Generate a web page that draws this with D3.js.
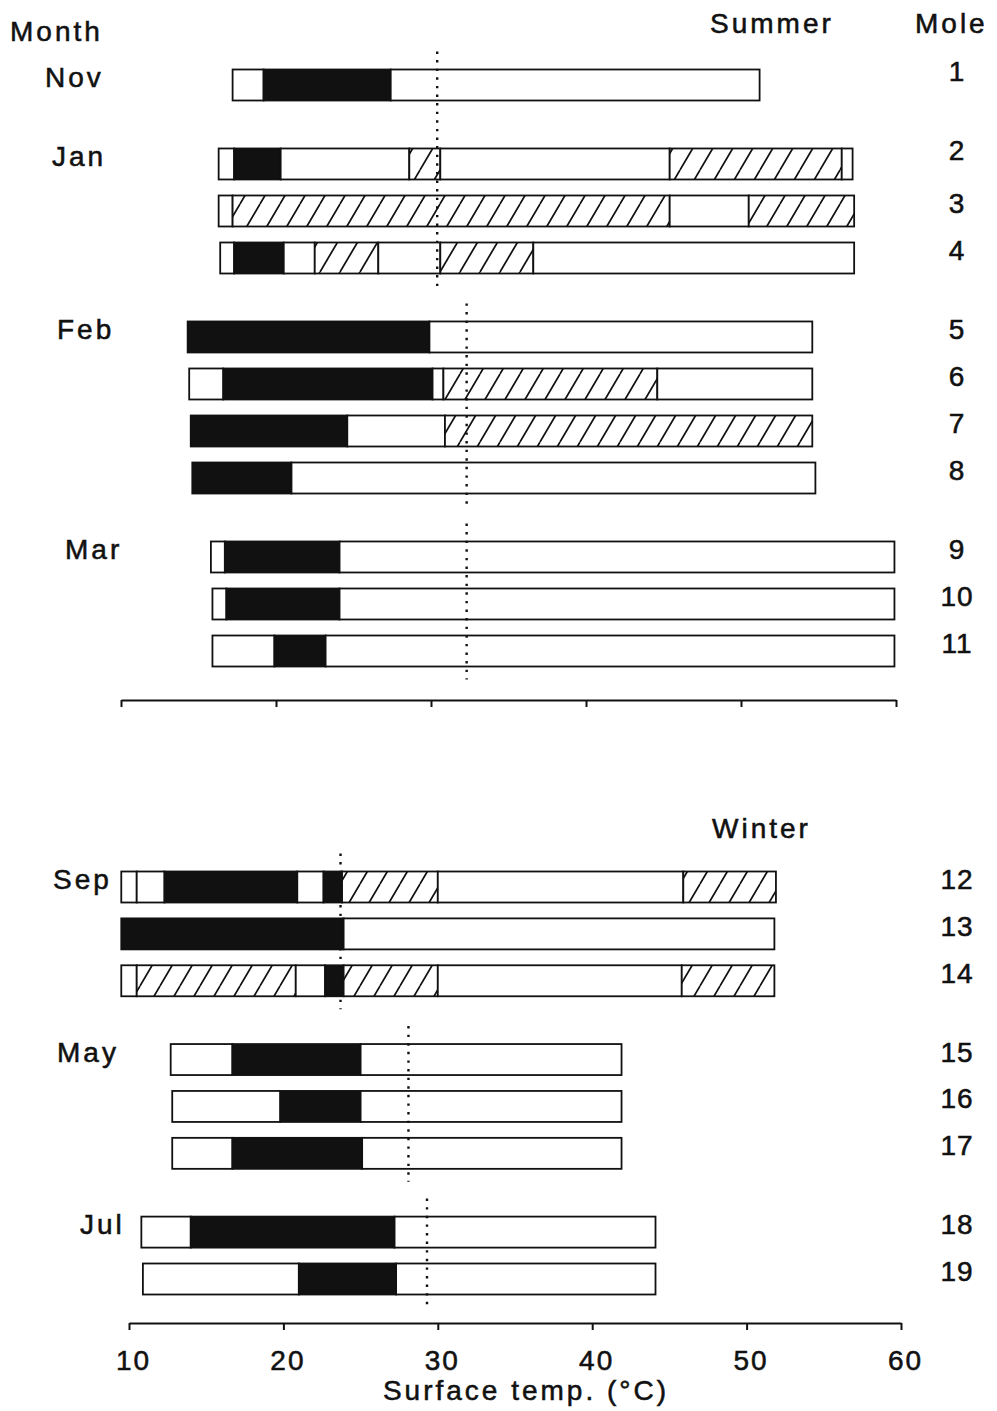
<!DOCTYPE html>
<html>
<head>
<meta charset="utf-8">
<script src="https://cdn.jsdelivr.net/npm/d3@7"></script>
<style>
  body { margin: 0; background: #fff; }
  text { font-family: "Liberation Sans", Arial, Helvetica, sans-serif; fill: #111;
         stroke: #111; stroke-width: 0.55px; }
</style>
</head>
<body>
<svg id="chart" width="997" height="1411"></svg>
<script>
// ---- data ----------------------------------------------------------
const seasons = ["Summer", "Winter"];
const seasonMonths = [["Nov", "Jan", "Feb", "Mar"], ["Sep", "May", "Jul"]];
const months = ["Nov", "Jan", "Feb", "Mar", "Sep", "May", "Jul"];
const monthMoles = [[1], [2, 3, 4], [5, 6, 7, 8], [9, 10, 11], [12, 13, 14], [15, 16, 17], [18, 19]];

// surface-temperature reference lines (dotted), grouped by months they span
const refLineMonths = [["Nov", "Jan"], ["Feb"], ["Mar"], ["Sep"], ["May"], ["Jul"]];
const refLineTemps = [30.4, 32.3, 32.3, 23.7, 28.1, 29.3];

// per mole: temperature break points (°C) and the kind of each interval
// o = open, b = filled (black), h = hatched
const moleBreaks = [
  [17.2, 19.2, 27.4, 51.2],                                   // 1
  [16.3, 17.3, 20.3, 28.6, 30.6, 45.4, 56.5, 57.2],           // 2
  [16.3, 17.2, 45.4, 50.5, 57.3],                             // 3
  [16.4, 17.3, 20.5, 22.5, 26.6, 30.6, 36.6, 57.3],           // 4
  [14.3, 29.9, 54.6],                                         // 5
  [14.4, 16.6, 30.1, 30.8, 44.6, 54.6],                       // 6
  [14.5, 24.6, 30.9, 54.6],                                   // 7
  [14.6, 21.0, 54.8],                                         // 8
  [15.8, 16.7, 24.1, 59.9],                                   // 9
  [15.9, 16.8, 24.1, 59.9],                                   // 10
  [15.9, 19.9, 23.2, 59.9],                                   // 11
  [9.5, 10.5, 12.3, 20.9, 22.6, 23.8, 30.0, 45.9, 51.9],      // 12
  [9.5, 23.9, 51.8],                                          // 13
  [9.5, 10.5, 20.8, 22.7, 23.9, 30.0, 45.8, 51.8],            // 14
  [12.7, 16.7, 25.0, 41.9],                                   // 15
  [12.8, 19.8, 25.0, 41.9],                                   // 16
  [12.8, 16.7, 25.1, 41.9],                                   // 17
  [10.8, 14.0, 27.2, 44.1],                                   // 18
  [10.9, 21.0, 27.3, 44.1]                                    // 19
];
const moleKinds = [
  "obo", "obohoho", "ohoh", "obohoho", "bo", "oboho", "boh", "bo",
  "obo", "obo", "obo",
  "oobobhoh", "bo", "ohobhoh", "obo", "obo", "obo", "obo", "obo"
];

const tickValues = [10, 20, 30, 40, 50, 60];
const axisTitle = "Surface temp. (°C)";

// ---- layout --------------------------------------------------------
const svg = d3.select("#chart");
const barH = 31;
const groupGap = 0.68;           // extra space between month groups, in rows

const panels = [
  { season: "Summer", xRange: [121, 896], yRange: [85, 651], axisY: 700, labels: false,
    titlePos: [710, 33] },
  { season: "Winter", xRange: [129, 901], yRange: [887, 1279], axisY: 1323, labels: true,
    titlePos: [712, 838] }
];
const monthLabelX = { Nov: 45, Jan: 52, Feb: 57, Mar: 65, Sep: 53, May: 57, Jul: 80 };

// hatch pattern: white ground with "/" strokes
const defs = svg.append("defs");
const hw = 20, hh = 34;
const pat = defs.append("pattern")
  .attr("id", "hatch")
  .attr("patternUnits", "userSpaceOnUse")
  .attr("width", hw).attr("height", hh);
pat.append("rect").attr("width", hw).attr("height", hh).attr("fill", "#fff");
pat.append("path")
  .attr("d", `M0,${hh} L${hw},0 M${-hw},${hh} L0,0 M${hw},${hh} L${2 * hw},0`)
  .attr("stroke", "#111").attr("stroke-width", 1.7).attr("fill", "none");

const fillFor = k => k === "b" ? "#111" : k === "h" ? "url(#hatch)" : "#fff";

// header texts
svg.append("text").attr("x", 10).attr("y", 41)
  .style("font-size", "28px").style("letter-spacing", "3px").text("Month");
svg.append("text").attr("x", 915).attr("y", 33)
  .style("font-size", "28px").style("letter-spacing", "3px").text("Mole");

panels.forEach((p, pi) => {
  const pMonths = seasonMonths[seasons.indexOf(p.season)];
  // slot position of each mole in this panel (row index plus group gaps)
  const slotOf = new Map();
  let row = 0;
  pMonths.forEach((m, gi) => {
    monthMoles[months.indexOf(m)].forEach(id => {
      slotOf.set(id, row + groupGap * gi);
      row++;
    });
  });
  const maxSlot = d3.max(Array.from(slotOf.values()));
  const x = d3.scaleLinear().domain([10, 60]).range(p.xRange);
  const y = d3.scaleLinear().domain([0, maxSlot]).range(p.yRange);

  const g = svg.append("g");

  // season title
  g.append("text").attr("x", p.titlePos[0]).attr("y", p.titlePos[1])
    .style("font-size", "28px").style("letter-spacing", "3px").text(p.season);

  // bars
  const ids = Array.from(slotOf.keys());
  ids.forEach(id => {
    const br = moleBreaks[id - 1];
    const kinds = moleKinds[id - 1];
    const segs = d3.pairs(br).map(([a, b], k) => ({ a, b, kind: kinds[k] }));
    const yc = y(slotOf.get(id));
    g.append("g").selectAll("rect").data(segs).join("rect")
      .attr("x", d => x(d.a))
      .attr("width", d => x(d.b) - x(d.a))
      .attr("y", yc - barH / 2)
      .attr("height", barH)
      .attr("fill", d => fillFor(d.kind))
      .attr("stroke", "#111")
      .attr("stroke-width", 1.8);

    g.append("text")
      .attr("x", 957).attr("y", yc + (id <= 2 ? -4 : 2))
      .attr("text-anchor", "middle")
      .style("font-size", "28px").style("letter-spacing", "1px")
      .text(id);
  });

  // month labels
  pMonths.forEach(m => {
    const first = monthMoles[months.indexOf(m)][0];
    g.append("text")
      .attr("x", monthLabelX[m]).attr("y", y(slotOf.get(first)) + 2)
      .style("font-size", "28px").style("letter-spacing", "3px")
      .text(m);
  });

  // dotted reference lines
  refLineMonths.forEach((ms, li) => {
    if (!ms.every(m => pMonths.includes(m))) return;
    const allIds = ms.flatMap(m => monthMoles[months.indexOf(m)]);
    const y0 = y(slotOf.get(allIds[0])) - barH / 2 - 18;
    const y1 = y(slotOf.get(allIds[allIds.length - 1])) + barH / 2 + 13;
    const xv = x(refLineTemps[li]);
    g.append("line")
      .attr("x1", xv).attr("x2", xv).attr("y1", y0).attr("y2", y1)
      .attr("stroke", "#111").attr("stroke-width", 2.4)
      .attr("stroke-dasharray", "2.4,6.2");
  });

  // axis
  const axis = d3.axisBottom(x).tickValues(tickValues).tickSize(7).tickSizeOuter(0)
    .tickFormat(p.labels ? d3.format("d") : "");
  const ax = g.append("g").attr("transform", `translate(0,${p.axisY})`).call(axis);
  ax.select(".domain").attr("stroke", "#111").attr("stroke-width", 2);
  ax.selectAll(".tick line").attr("stroke", "#111").attr("stroke-width", 2);
  ax.selectAll(".tick text")
    .attr("x", 4).attr("y", 47).attr("dy", 0)
    .style("font-size", "28px").style("letter-spacing", "2px")
    .style("font-family", "'Liberation Sans', Arial, sans-serif")
    .attr("fill", "#111");
  if (p.labels) {
    g.append("text")
      .attr("x", 526)
      .attr("y", 1400)
      .attr("text-anchor", "middle")
      .style("font-size", "28px").style("letter-spacing", "3px")
      .text(axisTitle);
  }
});
</script>
</body>
</html>
